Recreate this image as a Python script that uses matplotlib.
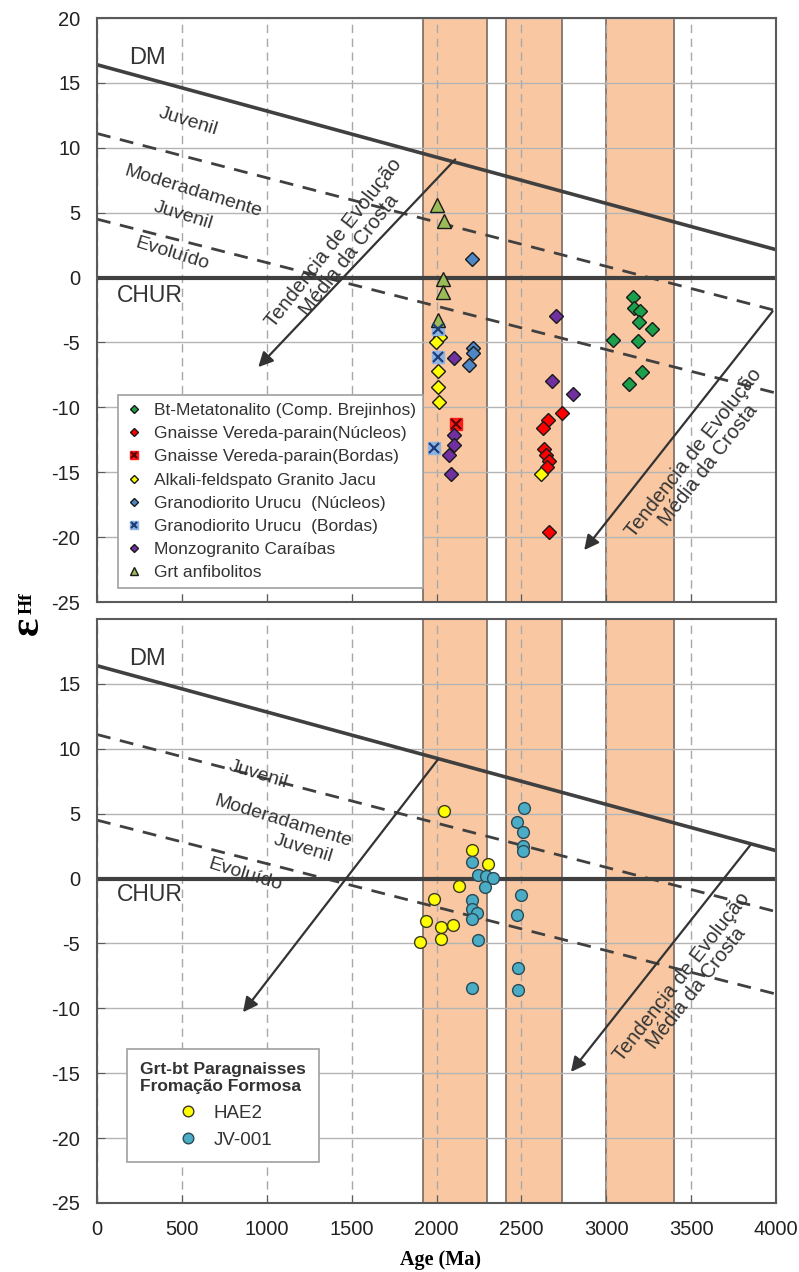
import numpy as np
import matplotlib
matplotlib.use("Agg")
import matplotlib.pyplot as plt
from matplotlib.legend_handler import HandlerTuple

plt.rcParams['font.family'] = ['Liberation Sans', 'DejaVu Sans']
plt.rcParams['axes.unicode_minus'] = False

# ---- data (Age in Ma, epsilon Hf) ----
brejinhos_age = [3160, 3163, 3199, 3191, 3272, 3040, 3189, 3209, 3134]
brejinhos_ehf = [-1.5, -2.35, -2.6, -3.4, -4.0, -4.8, -4.9, -7.3, -8.2]

vereda_nuc_age = [2737, 2655, 2626, 2635, 2645, 2663, 2653, 2663]
vereda_nuc_ehf = [-10.45, -11.0, -11.6, -13.2, -13.7, -14.1, -14.6, -19.6]

vereda_bor_age = [2115]
vereda_bor_ehf = [-11.3]

jacu_age = [2020, 1995, 2010, 2010, 2015, 2615]
jacu_ehf = [-4.6, -5.0, -7.2, -8.4, -9.6, -15.1]

urucu_nuc_age = [2207, 2213, 2217, 2194]
urucu_nuc_ehf = [1.45, -5.4, -5.8, -6.7]

urucu_bor_age = [2007, 2007, 1987]
urucu_bor_ehf = [-4.0, -6.15, -13.1]

monzo_age = [2103, 2105, 2105, 2076, 2085, 2702, 2678, 2806]
monzo_ehf = [-6.2, -12.1, -12.9, -13.7, -15.1, -3.0, -7.95, -9.0]

anfib_age = [2005, 2044, 2036, 2036, 2011]
anfib_ehf = [5.56, 4.35, -0.1, -1.08, -3.3]

hae2_age = [2046, 2207, 2301, 2132, 1987, 1936, 2027, 2095, 1903, 2027]
hae2_ehf = [5.2, 2.2, 1.16, -0.54, -1.6, -3.3, -3.7, -3.55, -4.9, -4.65]

jv001_age = [2515, 2472, 2507, 2511, 2511, 2207, 2242, 2290, 2335, 2288,
             2500, 2207, 2207, 2240, 2207, 2472, 2242, 2478, 2209, 2482]
jv001_ehf = [5.4, 4.35, 3.6, 2.5, 2.1, 1.26, 0.26, 0.23, 0.05, -0.64,
             -1.3, -1.67, -2.34, -2.65, -3.1, -2.8, -4.7, -6.9, -8.4, -8.6]

# evolution reference lines (eHf at 0 and 4000 Ma)
line_age = [0, 4000]
dm_ehf = [16.4, 2.15]
juv_ehf = [11.1, -2.55]
evo_ehf = [4.5, -8.9]

# age bands
bands = [(1920, 2295), (2410, 2738), (3000, 3400)]

BAND_COLOR = '#f9c8a2'
DARK = '#404040'
TXT = '#333333'

fig = plt.figure(figsize=(7.99, 12.72), dpi=100)
W, H = 799, 1272
ax1 = fig.add_axes([97 / W, 1 - 602 / H, 679 / W, 584 / H])
ax2 = fig.add_axes([97 / W, 1 - 1203 / H, 679 / W, 584 / H])


def setup(ax, show_xlabels):
    ax.set_xlim(0, 4000)
    ax.set_ylim(-25, 20)
    ax.set_xticks(np.arange(0, 4001, 500))
    ax.set_axisbelow(True)
    ax.xaxis.grid(True, linestyle=(0, (6, 4)), color='#a8a8a8', lw=1)
    ax.yaxis.grid(True, linestyle='-', color='#b4b4b4', lw=1)
    for s in ax.spines.values():
        s.set_color('#5a5a5a')
        s.set_linewidth(1.5)
    ax.tick_params(direction='in', length=6, color='#5a5a5a', labelsize=14.5,
                   labelcolor='#222222', pad=12)
    if not show_xlabels:
        ax.tick_params(axis='x', labelbottom=False)
    for x0, x1 in bands:
        ax.axvspan(x0, x1, facecolor=BAND_COLOR, edgecolor='#7a6a60', lw=1.2, zorder=0.2)
    ax.plot(line_age, dm_ehf, color=DARK, lw=2.6, zorder=2)
    ax.plot(line_age, juv_ehf, color=DARK, lw=2, dashes=(5, 3.5), zorder=2)
    ax.plot(line_age, evo_ehf, color=DARK, lw=2, dashes=(5, 3.5), zorder=2)
    ax.axhline(0, color=DARK, lw=3, zorder=2)


def arrow(ax, start, end):
    ax.annotate('', xy=end, xytext=start,
                arrowprops=dict(arrowstyle='-|>', lw=1.6, color='#333333',
                                mutation_scale=22, shrinkA=0, shrinkB=0), zorder=3)


def trend_text(ax, x, y):
    ax.text(x, y, 'Tendencia de Evolução\nMédia da Crosta', fontsize=14.5,
            rotation=52, ha='center', va='center', color=TXT, linespacing=1.0, zorder=3)


def labels(ax, pos):
    tk = dict(color=TXT, ha='center', va='center', zorder=3)
    ax.text(*pos['DM'], 'DM', fontsize=17, **tk)
    ax.text(*pos['CHUR'], 'CHUR', fontsize=16.5, **tk)
    ax.text(*pos['juv'], 'Juvenil', fontsize=14, rotation=-17, **tk)
    ax.text(*pos['mod'], 'Moderadamente', fontsize=14, rotation=-17, **tk)
    ax.text(*pos['juv2'], 'Juvenil', fontsize=14, rotation=-17, **tk)
    ax.text(*pos['evo'], 'Evoluído', fontsize=14, rotation=-17, **tk)


setup(ax1, False)
setup(ax2, True)
ax2.set_yticks(np.arange(-25, 16, 5))

# ---- top panel ----
labels(ax1, dict(DM=(300, 16.9), CHUR=(312, -1.4), juv=(536, 12.0),
                 mod=(566, 6.6), juv2=(507, 4.8), evo=(443, 1.85)))
arrow(ax1, (2110, 9.1), (950, -6.9))
arrow(ax1, (3980, -2.6), (2870, -21.0))
trend_text(ax1, 1440, 2.2)
trend_text(ax1, 3560, -14.0)

mk = dict(ls='none', mec='#1a1a1a', mew=1, zorder=5)
h_brej, = ax1.plot(brejinhos_age, brejinhos_ehf, marker='D', ms=7, mfc='#1aa04a', **mk)
h_vnuc, = ax1.plot(vereda_nuc_age, vereda_nuc_ehf, marker='D', ms=7, mfc='#ff0000', **mk)
h_vbs, = ax1.plot(vereda_bor_age, vereda_bor_ehf, ls='none', marker='s', ms=8,
                  mfc='#ff1a1a', mec='#ff1a1a', zorder=5)
h_vbx, = ax1.plot(vereda_bor_age, vereda_bor_ehf, ls='none', marker='x', ms=7,
                  mec='#600000', mew=1.6, zorder=6)
h_jacu, = ax1.plot(jacu_age, jacu_ehf, marker='D', ms=7, mfc='#ffff00', **mk)
h_unuc, = ax1.plot(urucu_nuc_age, urucu_nuc_ehf, marker='D', ms=7, mfc='#4f86c6', **mk)
h_ubs, = ax1.plot(urucu_bor_age, urucu_bor_ehf, ls='none', marker='s', ms=8,
                  mfc='#8fb4e0', mec='#8fb4e0', zorder=5)
h_ubx, = ax1.plot(urucu_bor_age, urucu_bor_ehf, ls='none', marker='x', ms=7,
                  mec='#1f3d7a', mew=1.6, zorder=6)
h_monz, = ax1.plot(monzo_age, monzo_ehf, marker='D', ms=7, mfc='#7030a0', **mk)
h_anf, = ax1.plot(anfib_age, anfib_ehf, marker='^', ms=9.5, mfc='#9bbb59', **mk)

leg1 = ax1.legend(
    [h_brej, h_vnuc, (h_vbs, h_vbx), h_jacu, h_unuc, (h_ubs, h_ubx), h_monz, h_anf],
    ['Bt-Metatonalito (Comp. Brejinhos)', 'Gnaisse Vereda-parain(Núcleos)',
     'Gnaisse Vereda-parain(Bordas)', 'Alkali-feldspato Granito Jacu',
     'Granodiorito Urucu  (Núcleos)', 'Granodiorito Urucu  (Bordas)',
     'Monzogranito Caraíbas', 'Grt anfibolitos'],
    handler_map={tuple: HandlerTuple(ndivide=1)},
    loc='lower left', bbox_to_anchor=(0.031, 0.024), fontsize=12.5, markerscale=0.65,
    handlelength=0.9, handletextpad=0.7, labelspacing=0.46, borderpad=0.45,
    fancybox=False, framealpha=1, edgecolor='#a0a0a0', borderaxespad=0)
for t in leg1.get_texts():
    t.set_color(TXT)
leg1.get_frame().set_linewidth(1.2)

# ---- bottom panel ----
labels(ax2, dict(DM=(300, 16.9), CHUR=(312, -1.2), juv=(948, 8.0),
                 mod=(1096, 4.4), juv2=(1214, 2.3), evo=(872, 0.3)))
arrow(ax2, (2010, 9.2), (860, -10.3))
arrow(ax2, (3847, 2.55), (2792, -14.9))
trend_text(ax2, 3487, -8.0)

h_hae, = ax2.plot(hae2_age, hae2_ehf, ls='none', marker='o', ms=8.5, mfc='#ffff00',
                  mec='#3a3a20', mew=1, zorder=5)
h_jv, = ax2.plot(jv001_age, jv001_ehf, ls='none', marker='o', ms=8.5, mfc='#4bacc6',
                 mec='#2a4a55', mew=1, zorder=5)
leg2 = ax2.legend([h_hae, h_jv], ['HAE2', 'JV-001'],
                  title='Grt-bt Paragnaisses\nFromação Formosa',
                  title_fontproperties={'weight': 'bold', 'size': 12.5},
                  loc='lower left', bbox_to_anchor=(0.044, 0.07), fontsize=13.5,
                  markerscale=0.9, handlelength=1.5, handletextpad=0.6,
                  labelspacing=0.55, borderpad=0.7, fancybox=False, framealpha=1,
                  edgecolor='#a0a0a0', borderaxespad=0)
leg2.get_title().set_color(TXT)
for t in leg2.get_texts():
    t.set_color(TXT)
leg2.get_frame().set_linewidth(1.2)

# ---- axis labels ----
fig.text(28 / W, 1 - 626 / H, 'ε', fontsize=31, fontweight='bold',
         family='Liberation Serif', rotation=90, ha='center', va='center')
fig.text(27 / W, 1 - 603 / H, 'Hf', fontsize=14, fontweight='bold',
         family='Liberation Serif', rotation=90, ha='center', va='center')
fig.text(441 / W, 1 - 1260 / H, 'Age (Ma)', fontsize=14.5, fontweight='bold',
         family='Liberation Serif', ha='center', va='center')

fig.savefig('out.png', dpi=100)
